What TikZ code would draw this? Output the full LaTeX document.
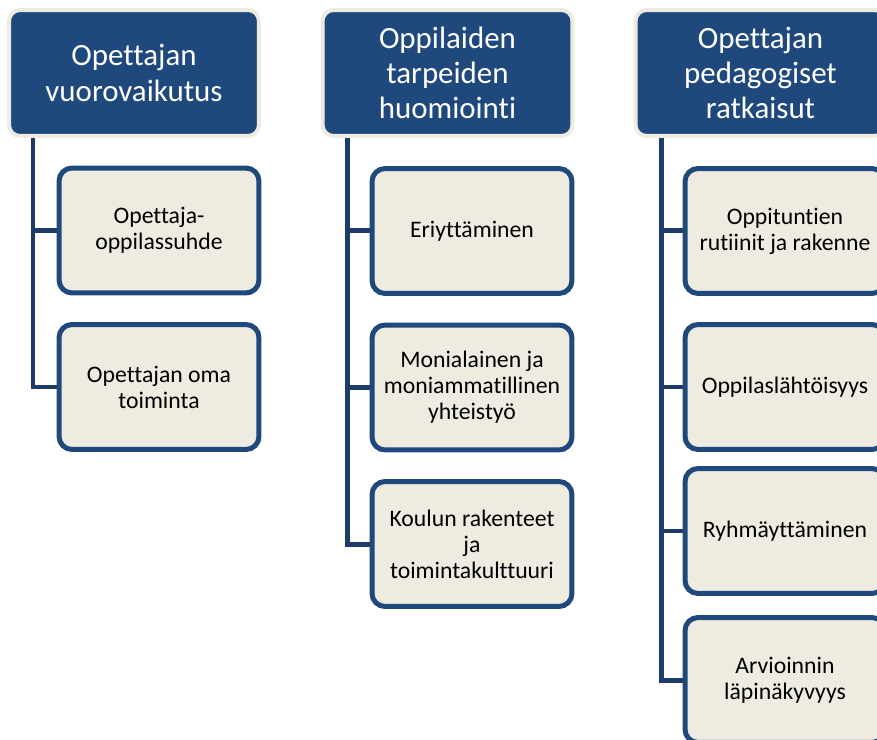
\documentclass[tikz,border=0pt]{standalone}
\usepackage{fontspec}
\setmainfont{Carlito}[Ligatures={NoCommon,NoContextual}]
\usetikzlibrary{arrows}
\definecolor{hdrblue}{RGB}{31,73,125}
\definecolor{lineblue}{RGB}{30,60,106}
\definecolor{paper}{RGB}{238,236,225}

\begin{document}
\begin{tikzpicture}[x=0.02cm, y=-0.02cm,
  hdr/.style={draw=paper, line width=0.08cm, fill=hdrblue, rounded corners=0.22cm, minimum width=5cm, minimum height=2.52cm, text=white, align=center, inner sep=0pt, font=\fontsize{17.6}{20}\selectfont},
  item/.style={draw=hdrblue, line width=0.1cm, fill=paper, rounded corners=0.26cm, minimum width=4cm, minimum height=2.5cm, align=center, inner sep=0pt, font=\fontsize{13.5}{14.8}\selectfont},
  trunk/.style={draw=lineblue, line width=0.1cm}]
\useasboundingbox (0,0) rectangle (877,740);
\clip (0,0) rectangle (877,740);
\coordinate (t1) at (33,138);
\coordinate (t2) at (347,138);
\coordinate (t3) at (661,138);
\node[hdr] at (134,73) (h1) {Opettajan\\vuorovaikutus};
\node[hdr] at (447.5,73) (h2) {Oppilaiden\\tarpeiden\\huomiointi};
\node[hdr] at (760.5,73) (h3) {Opettajan\\pedagogiset\\ratkaisut};
\node[item] at (159,230.5) (n11) {Opettaja-\\oppilassuhde};
\node[item] at (159,387) (n12) {Opettajan oma\\toiminta};
\node[item] at (472,231) (n21) {Eriyttäminen};
\node[item] at (472,387.5) (n22) {Monialainen ja\\moniammatillinen\\yhteistyö};
\node[item] at (472,544) (n23) {Koulun rakenteet\\ja\\toimintakulttuuri};
\node[item] at (785,231) (n31) {Oppituntien\\rutiinit ja rakenne};
\node[item] at (785,387) (n32) {Oppilaslähtöisyys};
\node[item] at (785,531) (n33) {Ryhmäyttäminen};
\node[item] at (785,680) (n34) {Arvioinnin\\läpinäkyvyys};
\draw[trunk] (t1) |- (n12.west);
\draw[trunk] (t1 |- n11.west) -- (n11.west);
\draw[trunk] (t2) |- (n23.west);
\draw[trunk] (t2 |- n21.west) -- (n21.west);
\draw[trunk] (t2 |- n22.west) -- (n22.west);
\draw[trunk] (t3) |- (n34.west);
\draw[trunk] (t3 |- n31.west) -- (n31.west);
\draw[trunk] (t3 |- n32.west) -- (n32.west);
\draw[trunk] (t3 |- n33.west) -- (n33.west);
\end{tikzpicture}
\end{document}
